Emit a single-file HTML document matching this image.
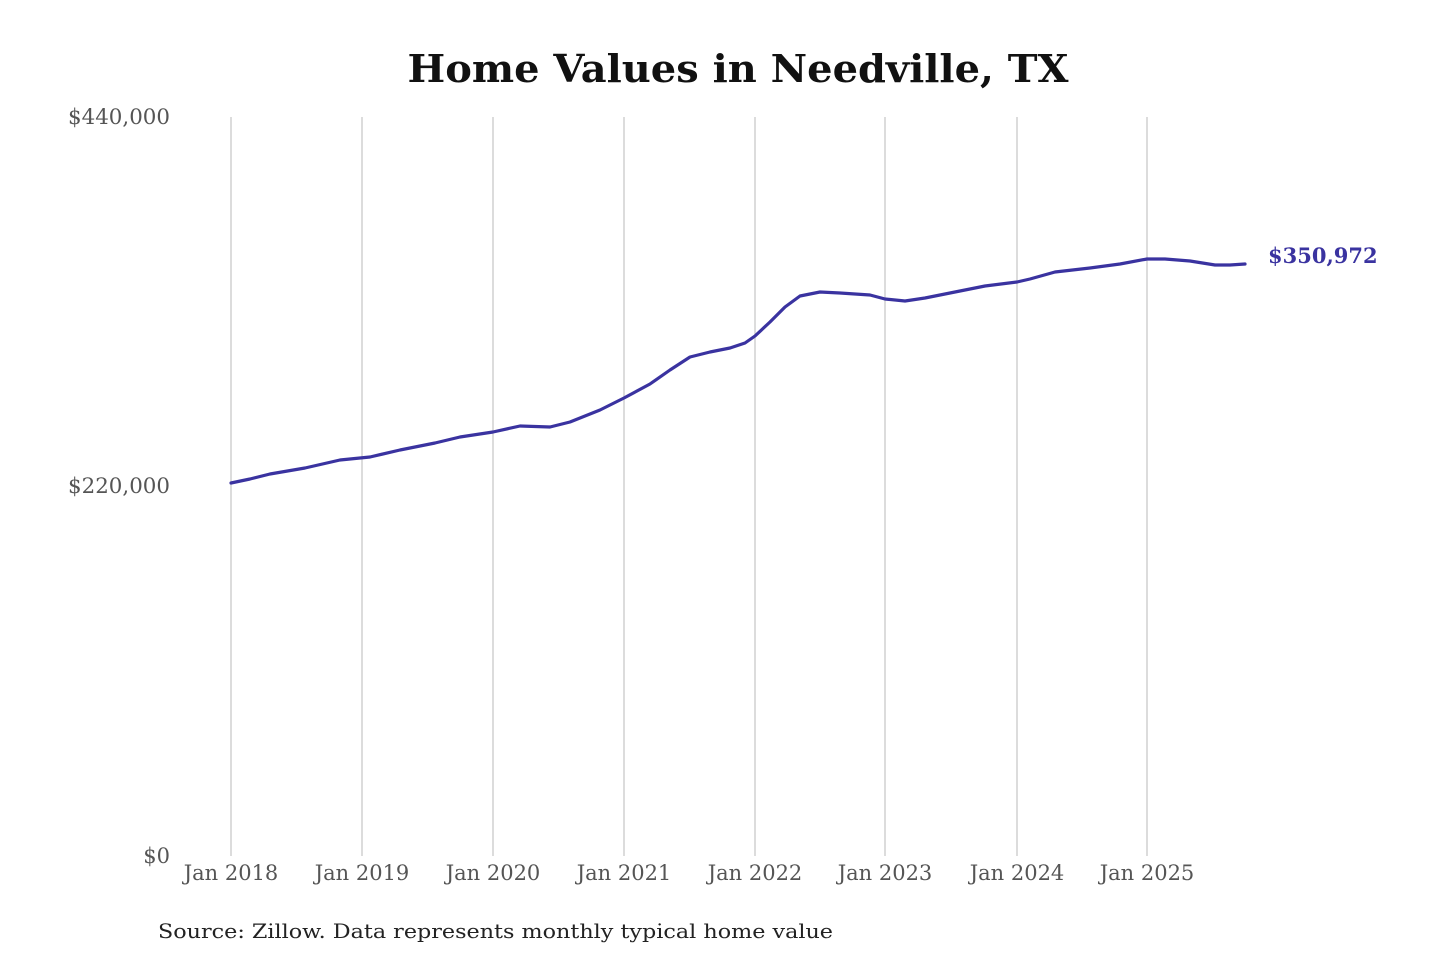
<!DOCTYPE html>
<html><head><meta charset="utf-8"><style>
html,body{margin:0;padding:0;background:#fff;}
svg{display:block;}
text{font-family:"DejaVu Serif","Liberation Serif",serif;}
</style></head><body>
<svg width="1440" height="960" viewBox="0 0 1440 960">
<rect width="1440" height="960" fill="#fff"/>
<text x="738" y="82" text-anchor="middle" font-size="38" font-weight="bold" fill="#111" textLength="661" lengthAdjust="spacingAndGlyphs">Home Values in Needville, TX</text>
<g stroke="#c4c4c4" stroke-width="1.2">
<line x1="231" y1="117" x2="231" y2="856"/>
<line x1="362" y1="117" x2="362" y2="856"/>
<line x1="493" y1="117" x2="493" y2="856"/>
<line x1="624" y1="117" x2="624" y2="856"/>
<line x1="755" y1="117" x2="755" y2="856"/>
<line x1="885" y1="117" x2="885" y2="856"/>
<line x1="1017" y1="117" x2="1017" y2="856"/>
<line x1="1147" y1="117" x2="1147" y2="856"/>
</g>
<g font-size="21" fill="#555" text-anchor="end">
<text x="170" y="124" textLength="102" lengthAdjust="spacingAndGlyphs">$440,000</text>
<text x="170" y="493" textLength="102" lengthAdjust="spacingAndGlyphs">$220,000</text>
<text x="170" y="863">$0</text>
</g>
<g font-size="21" fill="#555" text-anchor="middle">
<text x="231" y="880">Jan 2018</text>
<text x="362" y="880">Jan 2019</text>
<text x="493" y="880">Jan 2020</text>
<text x="624" y="880">Jan 2021</text>
<text x="755" y="880">Jan 2022</text>
<text x="885" y="880">Jan 2023</text>
<text x="1017" y="880">Jan 2024</text>
<text x="1147" y="880">Jan 2025</text>
</g>
<polyline fill="none" stroke="#3a33a0" stroke-width="3.2" stroke-linejoin="round" stroke-linecap="round" points="231,483 250,479 270,474 305,468 340,460 370,457 400,450 435,443 460,437 493,432 520,426 550,427 570,422 600,410 624,398 650,384 670,370 690,357 710,352 730,348 745,343 755,336 770,322 785,307 800,296 820,292 840,293 870,295 885,299 905,301 925,298 950,293 985,286 1017,282 1030,279 1055,272 1090,268 1120,264 1147,259 1165,259 1190,261 1215,265 1230,265 1245,264"/>
<text x="1268" y="263" font-size="21" font-weight="bold" fill="#3a33a0">$350,972</text>
<text x="158" y="938" font-size="20" fill="#222" textLength="675" lengthAdjust="spacingAndGlyphs">Source: Zillow. Data represents monthly typical home value</text>
</svg>
</body></html>
